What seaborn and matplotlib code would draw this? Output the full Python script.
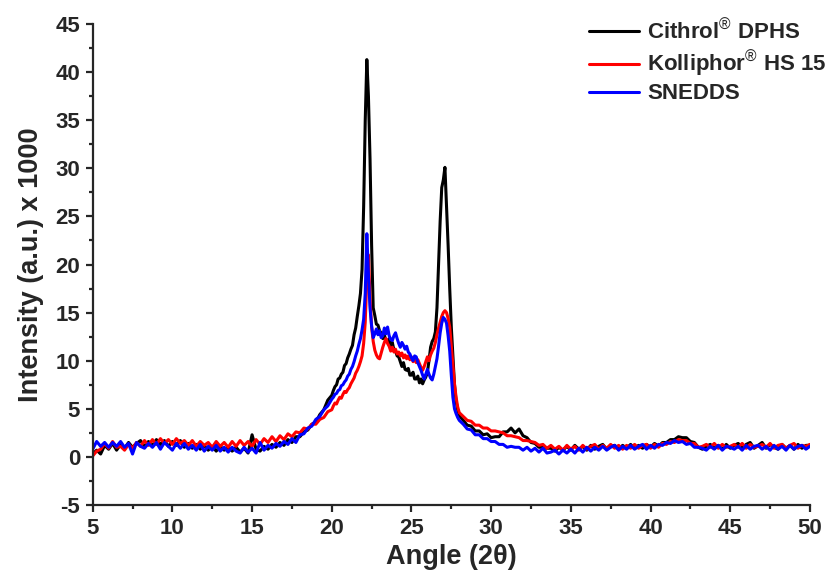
import numpy as np
import pandas as pd
import matplotlib
matplotlib.use("Agg")
import matplotlib.pyplot as plt
from matplotlib.ticker import MultipleLocator
import seaborn as sns

# Diffraction angle grid (2-theta): coarse outside the crystalline region,
# fine through the main reflections.
angle = np.round(np.concatenate([
    np.arange(5.0, 20.001, 0.25),
    np.arange(20.1, 28.001, 0.1),
    np.arange(28.25, 50.001, 0.25),
]), 2)

# Intensity (a.u. x 1000)
cithrol = [
    0.3,
    0.7, 0.3, 1.2, 0.8,  1.4, 0.7, 1.3, 0.9,  1.5, 1.0, 1.4, 1.7,  1.1, 1.6, 1.2, 1.8,
    1.3, 1.7, 1.1, 1.6,  1.2, 1.7, 1.0, 1.4,  0.9, 1.3, 0.8, 1.2,  0.7, 1.1, 0.6, 1.1,
    0.7, 1.0, 0.6, 1.0,  0.5, 0.9, 0.4, 2.3,  0.8, 0.6, 1.1, 0.8,  1.3, 1.0, 1.5, 1.2,
    1.8, 1.5, 2.1, 2.1,  2.6, 2.8, 3.4, 3.6,  4.4, 4.9, 5.9, 6.4,
    # 20.1 - 28.0
    6.9, 7.3, 7.5, 8.1, 8.2, 8.6, 8.8, 9.5, 9.7, 10.3,
    10.7, 11.2, 11.6, 12.7, 13.4, 14.6, 15.7, 17.0, 19.5, 26.0,
    35.0, 41.3, 37.5, 31.0, 22.0, 15.5, 14.7, 13.8, 13.7, 13.1,
    12.9, 12.3, 12.7, 12.0, 12.0, 12.3, 11.5, 11.9, 11.1, 11.0,
    10.5, 10.4, 9.9, 9.4, 9.8, 9.1, 9.0, 9.2, 8.5, 8.5,
    8.8, 8.1, 8.1, 8.4, 7.7, 8.1, 7.6, 8.0, 8.3, 8.8,
    10.0, 11.4, 12.0, 12.3, 13.0, 15.5, 20.0, 24.5, 28.0, 28.8,
    30.1, 26.0, 22.0, 17.5, 13.5, 10.5, 7.5, 5.8, 4.9, 4.3,
    # 28.25 - 50.0
    3.8, 3.3, 3.2, 2.7, 2.7, 2.3, 2.4, 2.0,
    2.1, 2.1, 2.6, 2.6, 3.0, 2.5, 2.9, 2.2,
    2.0, 1.5, 1.4, 1.0, 1.0, 0.9, 0.9, 0.6,
    1.0, 0.7, 1.1, 0.7, 1.2, 0.8, 1.1, 0.7,
    1.2, 0.8, 1.1, 1.3, 0.8, 1.1, 1.2, 0.8,
    1.2, 0.9, 1.3, 0.9, 1.2, 0.9, 1.3, 1.0,
    1.4, 1.1, 1.5, 1.5, 1.8, 1.8, 2.1, 2.0,
    2.0, 1.6, 1.5, 1.0, 0.8, 1.1, 1.3, 0.9,
    1.2, 0.8, 1.3, 0.9, 1.2, 1.4, 0.9, 1.3,
    1.5, 0.9, 1.2, 1.5, 0.9, 1.3, 1.0, 0.8,
    1.3, 0.9, 1.2, 0.8, 1.3, 0.9, 1.2, 1.2,
]

kolliphor = [
    0.1,
    0.6, 0.8, 1.4, 0.9,  1.6, 1.0, 1.1, 0.7,  1.3, 0.9, 1.5, 1.1,  1.7, 1.2, 1.8, 1.3,
    1.9, 1.4, 1.8, 1.3,  1.9, 1.4, 1.7, 1.2,  1.7, 1.1, 1.6, 1.2,  1.5, 1.0, 1.6, 1.1,
    1.5, 1.0, 1.6, 1.1,  1.7, 1.2, 1.6, 1.1,  1.8, 1.3, 1.9, 1.5,  2.1, 1.6, 2.2, 1.8,
    2.4, 2.1, 2.6, 2.5,  3.0, 2.9, 3.4, 3.4,  3.9, 4.1, 4.7, 4.9,
    # 20.1 - 28.0
    5.3, 5.6, 5.5, 5.9, 6.2, 6.1, 6.5, 6.8, 6.7, 7.0,
    7.2, 7.6, 7.9, 8.2, 8.7, 9.0, 9.4, 9.9, 10.5, 11.8,
    14.0, 18.5, 21.0, 16.5, 13.5, 12.0, 11.1, 10.6, 10.3, 10.2,
    10.8, 11.4, 11.9, 12.3, 11.8, 11.5, 11.0, 11.4, 10.9, 11.2,
    10.7, 10.9, 10.5, 10.8, 10.3, 10.6, 10.2, 10.5, 10.1, 10.4,
    9.9, 10.2, 9.8, 10.1, 9.7, 9.3, 9.0, 9.4, 9.9, 10.4,
    10.0, 10.6, 11.0, 11.3, 11.9, 12.7, 13.4, 14.0, 14.6, 15.0,
    15.2, 15.0, 14.4, 13.5, 11.5, 9.5, 7.6, 6.2, 5.2, 4.6,
    # 28.25 - 50.0
    4.2, 3.8, 3.7, 3.3, 3.3, 3.0, 3.0, 2.7,
    2.7, 2.6, 2.5, 2.2, 2.2, 2.1, 2.0, 1.7,
    1.7, 1.6, 1.5, 1.2, 1.3, 0.9, 1.2, 0.8,
    1.1, 0.7, 1.2, 0.8, 1.1, 0.7, 1.2, 0.8,
    1.1, 1.3, 0.8, 1.2, 0.9, 1.3, 0.9, 1.2,
    0.8, 1.2, 0.9, 1.3, 0.9, 1.2, 1.3, 0.9,
    1.3, 1.0, 1.4, 1.3, 1.6, 1.5, 1.8, 1.7,
    1.7, 1.4, 1.4, 1.0, 1.1, 1.3, 1.0, 1.4,
    0.9, 1.3, 1.0, 1.1, 1.3, 1.0, 1.4, 0.9,
    1.3, 1.0, 1.1, 1.3, 1.0, 1.4, 0.9, 1.2,
    1.3, 0.9, 1.2, 1.4, 0.9, 1.2, 1.1, 1.3,
]

snedds = [
    0.8,
    1.6, 1.1, 1.5, 1.0,  1.5, 1.1, 1.6, 1.0,  1.4, 0.3, 1.5, 1.1,  0.9, 1.4, 1.0, 1.5,
    0.8, 1.5, 1.1, 0.7,  1.4, 0.9, 1.4, 0.8,  1.2, 0.7, 1.3, 0.6,  1.1, 0.7, 1.2, 0.6,
    1.0, 0.5, 1.0, 0.6,  0.4, 1.0, 0.5, 0.9,  0.4, 1.5, 0.7, 1.2,  0.9, 1.4, 1.1, 1.6,
    1.3, 1.9, 1.5, 2.3,  2.4, 3.0, 3.2, 3.9,  4.2, 4.9, 5.3, 6.0,
    # 20.1 - 28.0
    6.2, 6.5, 6.6, 6.9, 7.0, 7.4, 7.5, 7.8, 8.0, 8.4,
    8.6, 9.1, 9.4, 9.9, 10.5, 11.0, 11.7, 12.3, 13.2, 14.3,
    17.0, 23.2, 19.0, 15.5, 13.6, 12.4, 12.8, 13.3, 12.7, 13.1,
    12.4, 12.6, 13.4, 12.8, 13.5, 12.6, 12.2, 12.1, 12.6, 12.9,
    12.3, 11.8, 11.4, 11.9, 11.6, 11.2, 11.5, 10.9, 10.7, 10.3,
    10.0, 10.5, 10.4, 9.8, 9.4, 9.0, 8.5, 8.1, 8.6, 9.1,
    8.6, 8.2, 8.0, 8.6, 9.4, 10.2, 11.5, 12.9, 13.9, 14.5,
    14.3, 13.9, 12.6, 11.0, 8.5, 6.2, 5.0, 4.5, 4.1, 3.8,
    # 28.25 - 50.0
    3.4, 2.9, 2.8, 2.3, 2.3, 1.9, 1.9, 1.6,
    1.6, 1.3, 1.3, 1.0, 1.1, 1.0, 1.0, 0.7,
    1.0, 0.6, 0.9, 0.5, 0.9, 0.4, 0.5, 0.7,
    0.3, 0.7, 0.4, 0.8, 0.4, 0.9, 0.5, 1.0,
    0.6, 1.0, 0.7, 1.1, 0.7, 1.0, 1.2, 0.7,
    1.1, 0.8, 1.2, 0.8, 1.1, 1.3, 0.8, 1.2,
    0.9, 1.3, 1.2, 1.5, 1.4, 1.7, 1.5, 1.6,
    1.3, 1.4, 1.0, 1.0, 0.9, 0.7, 1.1, 0.8,
    1.2, 0.7, 1.1, 1.0, 0.8, 1.1, 0.7, 1.2,
    0.8, 1.1, 1.2, 0.8, 1.1, 0.7, 1.2, 0.8,
    1.1, 0.7, 1.2, 0.8, 1.1, 1.2, 0.8, 1.1,
]

series_labels = [
    "Cithrol$^{\u00ae}$ DPHS",
    "Kolliphor$^{\u00ae}$ HS 15",
    "SNEDDS",
]
series_colors = ["#000000", "#ff0000", "#0000ff"]
series_values = [cithrol, kolliphor, snedds]

x_ticks = list(range(5, 51, 5))
y_ticks = list(range(-5, 46, 5))

sns.set_style("ticks")
plt.rcParams["font.family"] = ["Liberation Sans", "DejaVu Sans"]
plt.rcParams["font.weight"] = "bold"
plt.rcParams["axes.unicode_minus"] = False
plt.rcParams["mathtext.fontset"] = "custom"
plt.rcParams["mathtext.rm"] = "Liberation Sans:normal"
plt.rcParams["mathtext.it"] = "Liberation Sans:normal"
plt.rcParams["mathtext.bf"] = "Liberation Sans:bold"

fig = plt.figure(figsize=(8.29, 5.80), dpi=100)
ax = fig.add_axes([0.1118, 0.1293, 0.8652, 0.8293])

for label, color, values in zip(series_labels, series_colors, series_values):
    df = pd.DataFrame({"angle": angle, "intensity": values})
    sns.lineplot(data=df, x="angle", y="intensity", color=color, linewidth=2.2,
                 estimator=None, sort=False, label=label, ax=ax)

ax.set_xlim(5, 50)
ax.set_ylim(-5, 45)
ax.set_xticks(x_ticks)
ax.set_yticks(y_ticks)
ax.xaxis.set_minor_locator(MultipleLocator(2.5))
ax.yaxis.set_minor_locator(MultipleLocator(2.5))

sns.despine(ax=ax)
for side in ("left", "bottom"):
    ax.spines[side].set_linewidth(1.6)
ax.tick_params(which="major", direction="out", length=5, width=1.6,
               labelsize=16, pad=4)
ax.tick_params(which="minor", direction="out", length=3, width=1.6)
for t in ax.get_xticklabels() + ax.get_yticklabels():
    t.set_fontweight("bold")

ax.set_xlabel("Angle (2\u03b8)", fontsize=19.5, fontweight="bold", labelpad=4)
ax.set_ylabel("Intensity (a.u.) x 1000", fontsize=19.5, fontweight="bold", labelpad=8)

leg = ax.legend(loc="upper left", bbox_to_anchor=(0.7105, 0.966),
                bbox_transform=fig.transFigure, frameon=False,
                fontsize=16, handlelength=2.25, handletextpad=0.36,
                labelspacing=0.22, borderpad=0, borderaxespad=0)
for line in leg.get_lines():
    line.set_linewidth(2.2)
for t in leg.get_texts():
    t.set_fontweight("bold")

fig.savefig("out.png", dpi=100)
